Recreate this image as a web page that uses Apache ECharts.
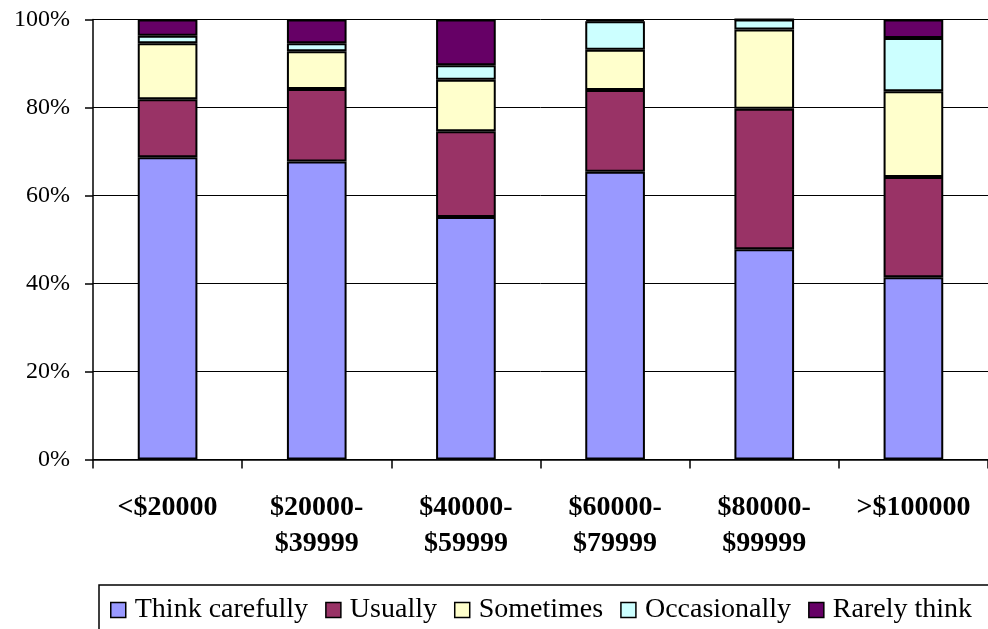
<!DOCTYPE html>
<html>
<head>
<meta charset="utf-8">
<script src="https://cdn.jsdelivr.net/npm/echarts@6/dist/echarts.min.js"></script>
<style>
html,body{margin:0;padding:0;background:#fff;}
#c{width:988px;height:629px;}
</style>
</head>
<body>
<div id="c"></div>
<script>
const categories = ['<$20000', '$20000-\n$39999', '$40000-\n$59999', '$60000-\n$79999', '$80000-\n$99999', '>$100000'];
const thinkCarefully = [68.7, 67.7, 55.1, 65.4, 47.8, 41.4];
const usually        = [13.2, 16.5, 19.5, 18.6, 31.9, 22.8];
const sometimes      = [12.7, 8.6, 11.7, 9.1, 18.0, 19.5];
const occasionally   = [1.7, 1.8, 3.3, 6.5, 2.3, 12.1];
const rarelyThink    = [3.7, 5.4, 10.4, 0.4, 0.0, 4.2];
const yTicks = [0, 20, 40, 60, 80, 100];

const seriesDefs = [
  ['Think carefully', thinkCarefully, '#9999FF'],
  ['Usually', usually, '#993366'],
  ['Sometimes', sometimes, '#FFFFCC'],
  ['Occasionally', occasionally, '#CCFFFF'],
  ['Rarely think', rarelyThink, '#660066']
];

const chart = echarts.init(document.getElementById('c'));
chart.setOption({
  animation: false,
  backgroundColor: '#fff',
  grid: { left: 93, top: 19.5, width: 906, bottom: 169.5, containLabel: false },
  xAxis: {
    type: 'category',
    data: categories,
    axisLine: { lineStyle: { color: '#000', width: 1.5 } },
    axisTick: { show: true, length: 9, lineStyle: { color: '#000', width: 1.5 } },
    axisLabel: {
      interval: 0,
      margin: 30,
      color: '#000',
      fontFamily: 'Liberation Serif',
      fontWeight: 'bold',
      fontSize: 28,
      lineHeight: 36
    }
  },
  yAxis: {
    type: 'value',
    min: yTicks[0],
    max: yTicks[yTicks.length - 1],
    interval: 20,
    axisLine: { show: true, lineStyle: { color: '#000', width: 1.5 } },
    axisTick: { show: true, length: 8, lineStyle: { color: '#000', width: 1.5 } },
    splitLine: { show: true, lineStyle: { color: '#000', width: 1 } },
    axisLabel: {
      margin: 23,
      color: '#000',
      fontFamily: 'Liberation Serif',
      fontSize: 24,
      formatter: v => v + '%'
    }
  },
  legend: {
    left: 110,
    top: 595,
    padding: 0,
    itemWidth: 15,
    itemHeight: 15,
    itemGap: 17,
    icon: 'rect',
    textStyle: {
      color: '#000',
      fontFamily: 'Liberation Serif',
      fontSize: 28,
      lineHeight: 30,
      padding: [0, 0, 0, 4]
    },
    itemStyle: { borderColor: '#000', borderWidth: 1.5 },
    data: seriesDefs.map(s => s[0])
  },
  graphic: [{
    type: 'rect',
    shape: { x: 99, y: 585, width: 900, height: 60 },
    style: { fill: 'none', stroke: '#000', lineWidth: 1.5 },
    silent: true
  }],
  series: seriesDefs.map(([name, data, color]) => ({
    name,
    type: 'bar',
    stack: 'total',
    data,
    barWidth: '40%',
    itemStyle: { color, borderColor: '#000', borderWidth: 2 }
  }))
});
</script>
</body>
</html>
